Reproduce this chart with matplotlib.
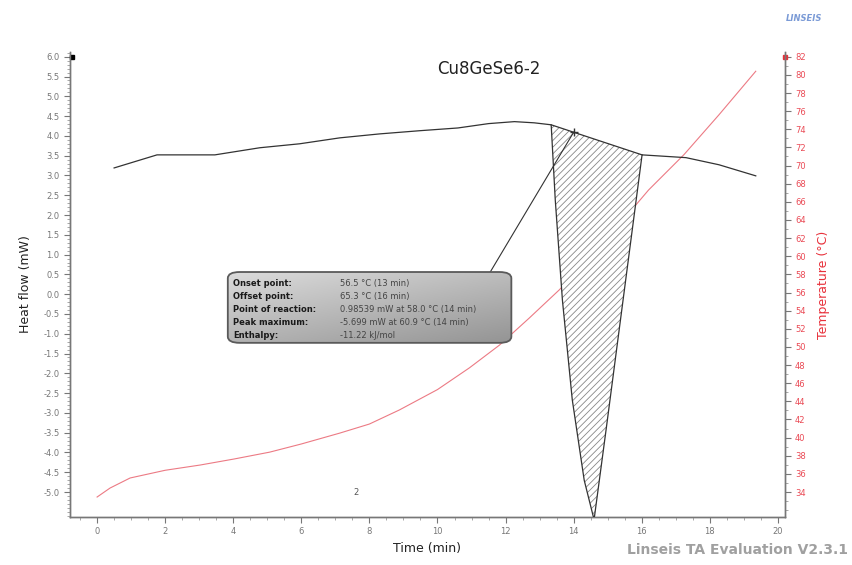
import numpy as np
import matplotlib
matplotlib.use("Agg")
import matplotlib.pyplot as plt
from matplotlib.patches import FancyBboxPatch
from matplotlib.ticker import MultipleLocator

# heat flow signal (min, mW)
hf_time = [0.5, 1.76, 3.46, 4.78, 5.95, 7.13, 8.3, 9.47, 10.6, 11.5, 12.26, 12.84, 13.34,
           13.46, 13.67, 13.96, 14.31, 14.6, 14.96, 15.31, 16.01, 17.3, 18.27, 19.35]
hf_mw = [3.19, 3.52, 3.52, 3.70, 3.80, 3.95, 4.05, 4.13, 4.20, 4.31, 4.36, 4.33, 4.28,
         2.38, -0.15, -2.67, -4.70, -5.699, -3.38, -1.08, 3.52, 3.45, 3.27, 2.99]

# sample temperature (min, degC)
temp_time = [0.0, 0.38, 0.97, 2.0, 3.03, 4.02, 5.07, 6.0, 7.13, 8.0, 8.88, 10.0, 10.94,
             11.82, 12.7, 13.58, 14.46, 15.34, 16.2, 17.24, 18.27, 19.35]
temp_c = [33.45, 34.44, 35.55, 36.4, 36.98, 37.64, 38.4, 39.3, 40.5, 41.5, 43.05, 45.3, 47.7,
          50.2, 53.2, 56.3, 59.8, 63.5, 67.3, 71.2, 75.6, 80.4]

# peak evaluation
onset_t, offset_t = 13.34, 16.01
reaction_t = 14.0
result_labels = ["Onset point:", "Offset point:", "Point of reaction:", "Peak maximum:", "Enthalpy:"]
result_values = ["56.5 °C (13 min)", "65.3 °C (16 min)", "0.98539 mW at 58.0 °C (14 min)",
                 "-5.699 mW at 60.9 °C (14 min)", "-11.22 kJ/mol"]

hf_lim = (-5.63, 6.12)


def hf_to_temp(h):
    return 34 + (h + 5) * 48 / 11


plt.rcParams["hatch.linewidth"] = 0.6

fig = plt.figure(figsize=(8.52, 5.65), dpi=100)
ax = fig.add_axes([0.082, 0.085, 0.839, 0.823])
ax2 = ax.twinx()

t = np.array(hf_time)
h = np.array(hf_mw)
ax.plot(t, h, color="#333333", lw=0.9, zorder=3)

# baseline between onset and offset + hatched peak area
h_on = np.interp(onset_t, t, h)
h_off = np.interp(offset_t, t, h)
mask = (t >= onset_t) & (t <= offset_t)
poly_t = np.concatenate([t[mask], [onset_t]])
poly_h = np.concatenate([h[mask], [h_on]])
ax.fill(poly_t, poly_h, facecolor="white", edgecolor="#888888", hatch="/////", lw=0, zorder=2)
ax.plot([onset_t, offset_t], [h_on, h_off], color="#333333", lw=0.9, zorder=3)
h_r = h_on + (reaction_t - onset_t) / (offset_t - onset_t) * (h_off - h_on)
ax.plot([reaction_t], [h_r], marker="+", color="#333333", ms=6, zorder=4)

# result box with a gray gradient
bx0, bx1, by0, by1 = 3.84, 12.17, -1.23, 0.56
box = FancyBboxPatch((bx0, by0), bx1 - bx0, by1 - by0,
                     boxstyle="round,pad=0,rounding_size=0.35", mutation_aspect=0.45,
                     facecolor="none", edgecolor="#5a5a5a", lw=1.3, zorder=6)
ax.add_patch(box)
gy = np.linspace(0, 1, 100).reshape(-1, 1)
gx = np.linspace(0, 1, 100).reshape(1, -1)
shade = 0.86 - 0.16 * gy - 0.12 * gx
rgb = np.dstack([shade, shade, shade])
img = ax.imshow(rgb, extent=(bx0, bx1, by0, by1), origin="upper", aspect="auto", zorder=5)
img.set_clip_path(box)
ax.plot([11.55, reaction_t], [by1, h_r], color="#333333", lw=0.8, zorder=4)
for i, (lab, val) in enumerate(zip(result_labels, result_values)):
    yy = 0.28 - i * 0.33
    ax.text(bx0 + 0.15, yy, lab, fontsize=6, fontweight="bold", color="#1a1a1a",
            va="center", zorder=7)
    ax.text(bx0 + 3.3, yy, val, fontsize=6, color="#444444", va="center", zorder=7)

ax2.plot(temp_time, temp_c, color="#ec7a84", lw=0.8)

ax.set_xlim(-0.8, 20.2)
ax.set_ylim(*hf_lim)
ax2.set_ylim(hf_to_temp(hf_lim[0]), hf_to_temp(hf_lim[1]))
ax.set_zorder(ax2.get_zorder() + 1)
ax.patch.set_visible(False)

ax.xaxis.set_major_locator(MultipleLocator(2))
ax.xaxis.set_minor_locator(MultipleLocator(0.5))
ax.yaxis.set_minor_locator(MultipleLocator(0.1))
ax2.yaxis.set_minor_locator(MultipleLocator(1))
hf_ticks = np.arange(-5.0, 6.01, 0.5)
ax.set_yticks(hf_ticks)
ax.set_yticklabels([f"{v:.1f}" for v in hf_ticks])
ax2.set_yticks(np.arange(34, 83, 2))

for a in (ax, ax2):
    a.spines["top"].set_visible(False)
    for s in a.spines.values():
        s.set_color("#777777")
        s.set_linewidth(1.0)
ax.tick_params(axis="both", which="major", labelsize=6, colors="#777777", length=4)
ax.tick_params(axis="both", which="minor", length=2, colors="#999999")
ax2.tick_params(axis="y", which="major", labelsize=6, colors="#777777", labelcolor="#ea4a55", length=4)
ax2.tick_params(axis="y", which="minor", length=2, colors="#999999")

ax.set_xlabel("Time (min)", fontsize=9, color="#222222")
ax.set_ylabel("Heat flow (mW)", fontsize=9, color="#222222", labelpad=8)
ax2.set_ylabel("Temperature (°C)", fontsize=9, color="#e8303a", labelpad=8)

ax.plot([-0.75], [6.0], marker="s", color="black", ms=3.5, clip_on=False)
ax2.plot([20.2], [82], marker="s", color="#e8303a", ms=3.5, clip_on=False)

ax.text(11.5, 5.7, "Cu8GeSe6-2", fontsize=12, color="#222222", ha="center", va="center")
ax.text(7.6, -5.0, "2", fontsize=6, color="#555555", ha="center", va="center")
fig.text(0.965, 0.967, "LINSEIS", fontsize=6, color="#7a9ad6", style="italic",
         fontweight="bold", ha="right", va="center")
fig.text(0.995, 0.027, "Linseis TA Evaluation V2.3.1", fontsize=10, color="#a0a0a0",
         fontweight="bold", ha="right", va="center")

fig.savefig("out.png", dpi=100)
